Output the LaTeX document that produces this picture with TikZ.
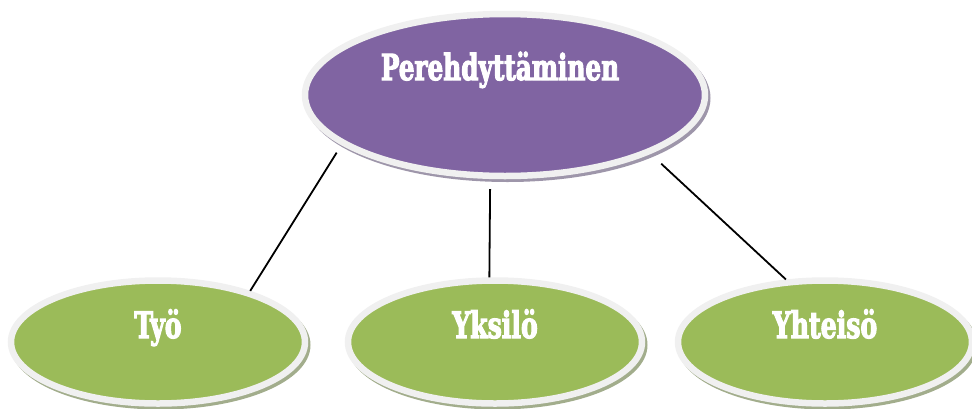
\documentclass[tikz,border=0pt]{standalone}
\usepackage{fontspec}
\newfontfamily\lblfont{DejaVu Serif Condensed}[BoldFont={* Bold}, BoldFeatures={FakeBold=3.5}]
\usetikzlibrary{shapes.geometric}
\definecolor{purp}{HTML}{8064A2}
\definecolor{grn}{HTML}{9BBB59}
\definecolor{rim}{HTML}{F0F0F0}
\definecolor{shP}{HTML}{9E96AA}
\definecolor{shG}{HTML}{A2AD8C}
\newcommand{\tall}[1]{\scalebox{1}[1.3]{#1}}
\tikzset{
  bubble/.style={ellipse, draw=rim, line width=6.5pt, text=white,
    font=\lblfont\bfseries, inner sep=0pt, align=center},
  topbubble/.style={bubble, fill=purp, minimum width=400pt, minimum height=162pt,
    font=\lblfont\bfseries\fontsize{27.5}{30}\selectfont, text height=24pt, text depth=54pt,
    preaction={draw=shP, fill=shP, line width=6pt, transform canvas={xshift=2.5pt,yshift=-3pt}}},
  leafbubble/.style={bubble, fill=grn, minimum width=294pt, minimum height=123pt,
    font=\lblfont\bfseries\fontsize{28}{30}\selectfont, text height=22pt, text depth=30pt,
    preaction={draw=shG, fill=shG, line width=6pt, transform canvas={xshift=2.5pt,yshift=-3pt}}},
  link/.style={draw=black, line width=1.8pt}
}
\begin{document}
\begin{tikzpicture}[x=1pt,y=-1pt]
\useasboundingbox (0,0) rectangle (972,408);
\node[topbubble] (P) at (505,95) {\tall{Perehdyttäminen}\hspace*{10pt}};
\node[leafbubble] (T) at (158,342) {\tall{Työ}};
\node[leafbubble] (Y) at (495,342) {\tall{Yksilö}};
\node[leafbubble] (H) at (825,342) {\tall{Yhteisö}};
\draw[link, shorten <=9pt] (P.197.3) -- (T.29.4);
\draw[link, shorten <=10pt] (P.260.6) -- (Y.95.4);
\draw[link, shorten <=14.6pt] (P.338.6) -- (H.122.5);
\end{tikzpicture}
\end{document}
